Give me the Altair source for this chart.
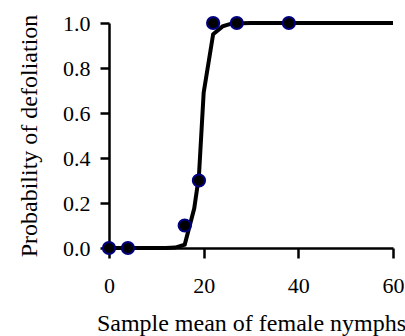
import altair as alt
import pandas as pd

# observed points
obs_x = [0, 4, 16, 19, 22, 27, 38]
obs_y = [0.0, 0.0, 0.1, 0.3, 1.0, 1.0, 1.0]

# fitted curve
fit_x = [0, 4, 8, 12, 14, 16, 18, 19, 20, 22, 24, 26, 30, 40, 50, 60]
fit_y = [0.0, 0.0, 0.0, 0.0, 0.002, 0.015, 0.175, 0.32, 0.69, 0.95, 0.985, 0.998, 1.0, 1.0, 1.0, 1.0]

obs = pd.DataFrame({"x": obs_x, "y": obs_y})
fit = pd.DataFrame({"x": fit_x, "y": fit_y})

FONT = "Liberation Serif"

xscale = alt.Scale(domain=[0, 60], nice=False, zero=False)
yscale = alt.Scale(domain=[0, 1], nice=False)

xaxis = alt.Axis(values=[0, 20, 40, 60], title="Sample mean of female nymphs",
                 tickSize=10, labelPadding=17, titlePadding=15, labelFlush=False)
yaxis = alt.Axis(values=[0, 0.2, 0.4, 0.6, 0.8, 1.0], format=".1f",
                 title="Probability of defoliation", tickSize=9, labelPadding=10,
                 titlePadding=21, labelFlush=False)

line = alt.Chart(fit).mark_line(color="black", strokeWidth=4).encode(
    x=alt.X("x:Q", scale=xscale, axis=xaxis),
    y=alt.Y("y:Q", scale=yscale, axis=yaxis),
)

pts = alt.Chart(obs).mark_point(filled=True, fill="black", stroke="#000080",
                                strokeWidth=2, size=150, opacity=1).encode(
    x=alt.X("x:Q", scale=xscale),
    y=alt.Y("y:Q", scale=yscale),
)

chart = (line + pts).properties(
    width=284, height=225,
    background="white",
    autosize=alt.AutoSizeParams(type="none"),
    padding={"left": 109, "top": 23, "right": 12, "bottom": 88},
).configure_view(stroke=None).configure_axis(
    grid=False, domainColor="black", domainWidth=2.5, tickColor="black", tickWidth=2.5,
    labelFont=FONT, labelFontSize=22, labelColor="black",
    titleFont=FONT, titleFontSize=24, titleFontWeight="normal", titleColor="black",
)

chart.save("out.html", embed_options={"renderer": "svg", "actions": False})
